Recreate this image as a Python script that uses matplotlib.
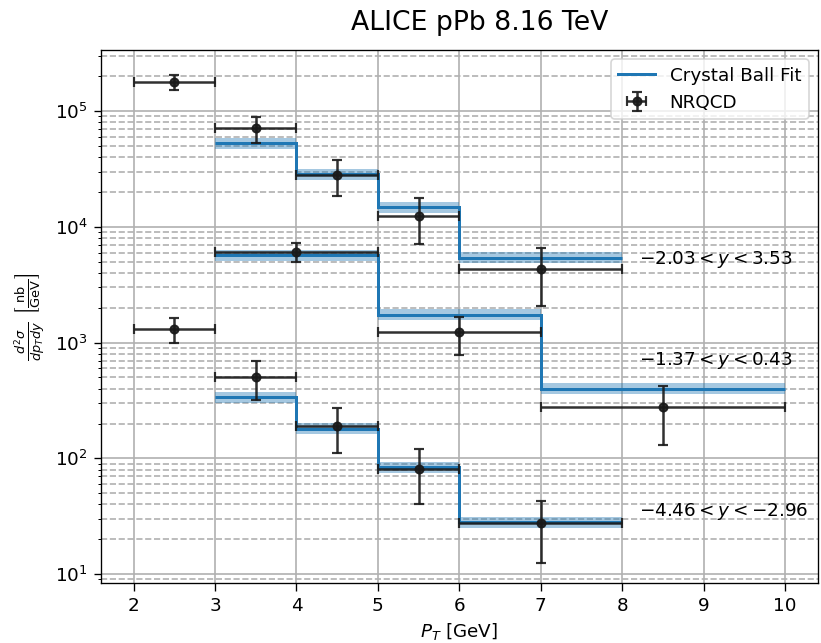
import numpy as np
import matplotlib.pyplot as plt

# crystal ball fit, per rapidity range (bin edges + values + band half width)
fit_edges_fwd = [3, 4, 5, 6, 8]
fit_vals_fwd = [52600, 28500, 14900, 5430]
fit_edges_mid = [3, 5, 7, 10]
fit_vals_mid = [5690, 1750, 401]
fit_edges_bwd = [3, 4, 5, 6, 8]
fit_vals_bwd = [340, 181, 84.4, 28.2]
band_frac = 0.11

# NRQCD points
pt_fwd = [2.5, 3.5, 4.5, 5.5, 7.0]
pt_fwd_w = [0.5, 0.5, 0.5, 0.5, 1.0]
nr_fwd = [178000, 70900, 28000, 12450, 4330]
nr_fwd_lo = [151000, 53200, 18300, 7080, 2070]
nr_fwd_hi = [206000, 89300, 37900, 17700, 6590]

pt_mid = [2.5, 4.0, 6.0, 8.5]
pt_mid_w = [0.5, 1.0, 1.0, 1.5]
nr_mid = [1320, 6080, 1240, 278]
nr_mid_lo = [994, 4950, 784, 131]
nr_mid_hi = [1630, 7280, 1680, 425]

pt_bwd = [3.5, 4.5, 5.5, 7.0]
pt_bwd_w = [0.5, 0.5, 0.5, 1.0]
nr_bwd = [506, 190, 80.5, 27.9]
nr_bwd_lo = [322, 111, 40.6, 12.6]
nr_bwd_hi = [690, 273, 120, 43.2]

labels = [r"$-2.03 < y < 3.53$", r"$-1.37 < y < 0.43$", r"$-4.46 < y < -2.96$"]
label_x = [8.2, 8.2, 8.2]
label_y = [5250, 705, 34.9]

fig, ax = plt.subplots(figsize=(821 / 120, 643 / 120), dpi=120)

fits = [(fit_edges_fwd, fit_vals_fwd), (fit_edges_mid, fit_vals_mid), (fit_edges_bwd, fit_vals_bwd)]
for i, (e, v) in enumerate(fits):
    e = np.array(e, dtype=float)
    v = np.array(v, dtype=float)
    vv = np.append(v, v[-1])
    ax.fill_between(e, vv * (1 - band_frac), vv * (1 + band_frac), step='post',
                    color='tab:blue', alpha=0.4, lw=0)
    ax.stairs(v, e, baseline=None, color='tab:blue', lw=1.8,
              label='Crystal Ball Fit' if i == 0 else None)

pts = [(pt_fwd, pt_fwd_w, nr_fwd, nr_fwd_lo, nr_fwd_hi),
       (pt_mid, pt_mid_w, nr_mid, nr_mid_lo, nr_mid_hi),
       (pt_bwd, pt_bwd_w, nr_bwd, nr_bwd_lo, nr_bwd_hi)]
for i, (x, w, y, lo, hi) in enumerate(pts):
    y = np.array(y)
    yerr = [y - np.array(lo), np.array(hi) - y]
    ax.errorbar(x, y, xerr=w, yerr=yerr, fmt='o', color='#1a1a1a', ms=5,
                capsize=3, elinewidth=1.5, capthick=1.3, alpha=0.9,
                label='NRQCD' if i == 0 else None)

for t, x, y in zip(labels, label_x, label_y):
    ax.text(x, y, t, fontsize=11, va='center', ha='left')

ax.set_yscale('log')
ax.set_xlim(1.6, 10.4)
ax.set_ylim(8.36, 3.36e5)
ax.grid(which='major', color='#b0b0b0', ls='-', lw=1)
ax.grid(which='minor', axis='y', color='#b0b0b0', ls='--', lw=1)
ax.set_axisbelow(True)

ax.set_title("ALICE pPb 8.16 TeV", fontsize=16, pad=12, x=0.529)
ax.set_xlabel(r"$P_T$ [GeV]", fontsize=11, labelpad=4)
ax.set_ylabel(r"$\frac{d^2\sigma}{dp_T dy}$ $\left[\frac{\mathrm{nb}}{\mathrm{GeV}}\right]$", fontsize=11)
ax.tick_params(labelsize=11)
ax.tick_params(which='major', length=4.5)
ax.legend(loc='upper right', fontsize=11)

plt.subplots_adjust(left=0.123, right=0.996, top=0.922, bottom=0.093)
plt.savefig('out.png')
